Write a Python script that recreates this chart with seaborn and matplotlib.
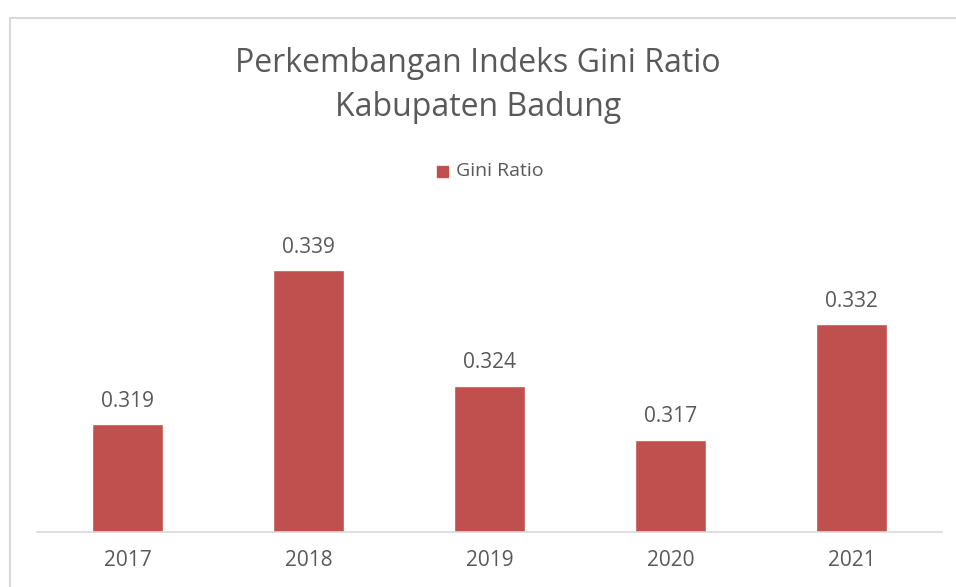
import numpy as np
import pandas as pd
import seaborn as sns
import matplotlib.pyplot as plt
from matplotlib.patches import Rectangle

years = ["2017", "2018", "2019", "2020", "2021"]
gini = [0.319, 0.339, 0.324, 0.317, 0.332]

BAR = "#C0504D"
TXT = "#595959"

sns.set_theme(style="white")
plt.rcParams['font.family'] = ['Open Sans', 'DejaVu Sans']

fig = plt.figure(figsize=(9.56, 5.87), dpi=100)
W, H = 956, 587
ax = fig.add_axes([37 / W, 1 - 532 / H, (942 - 37) / W, (532 - 224) / H])

df = pd.DataFrame({"year": years, "Gini Ratio": gini})
sns.barplot(data=df, x="year", y="Gini Ratio", color=BAR, width=0.39,
            saturation=1, ax=ax)

ax.set_xlim(-0.5, 4.5)
ax.set_ylim(0.305, 0.345)
ax.set_xlabel("")
ax.set_ylabel("")
ax.set_yticks([])
for s in ["top", "left", "right"]:
    ax.spines[s].set_visible(False)
ax.spines["bottom"].set_color("#D9D9D9")
ax.spines["bottom"].set_linewidth(1.2)
ax.tick_params(axis="x", length=0, pad=13, labelsize=15, labelcolor=TXT)

for i, v in enumerate(gini):
    ax.annotate(f"{v:.3f}", (i, v), xytext=(0, 9), textcoords="offset points",
                ha="center", va="bottom", fontsize=15, color=TXT)

# title and legend
fig.text(0.5, 1 - 63 / H, "Perkembangan Indeks Gini Ratio", ha="center",
         va="center", fontsize=23, color=TXT)
fig.text(0.5, 1 - 107 / H, "Kabupaten Badung", ha="center",
         va="center", fontsize=23, color=TXT)
fig.patches.append(Rectangle((437 / W, 1 - 177 / H), 11 / W, 11 / H,
                             transform=fig.transFigure, color=BAR))
fig.text(456 / W, 1 - 171 / H, "Gini Ratio", ha="left", va="center",
         fontsize=14, color=TXT)

# chart frame
fig.patches.append(Rectangle((9.5 / W, -0.05), 1.1, 1 - 17.5 / H + 0.05,
                             transform=fig.transFigure, fill=False,
                             edgecolor="#D9D9D9", linewidth=1.5))

fig.savefig("out.png", dpi=100)
